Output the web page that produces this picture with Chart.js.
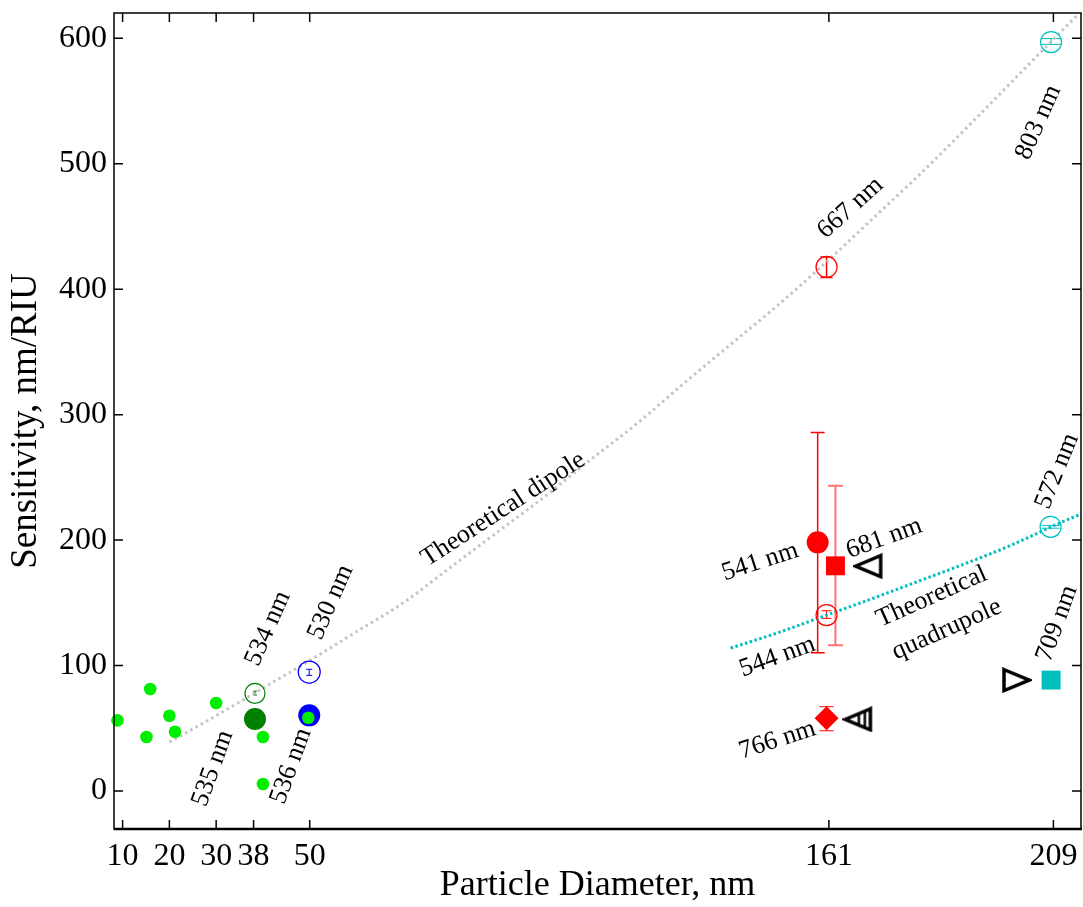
<!DOCTYPE html>
<html><head><meta charset="utf-8">
<script src="https://cdn.jsdelivr.net/npm/chart.js@4/dist/chart.umd.min.js"></script>
<style>html,body{margin:0;padding:0;background:#fff;overflow:hidden}#wrap{position:relative;width:1083px;height:907px}canvas{display:block}</style>
</head><body><div id="wrap"><canvas id="c"></canvas></div>
<script>
// ---- data ----
const xTickValues = [10, 20, 30, 38, 50, 161, 209];
const yTickValues = [0, 100, 200, 300, 400, 500, 600];

const dipoleX = [20, 30, 40, 50, 60, 70, 80, 90, 100, 110, 120, 130, 140, 150, 160, 170, 180, 190, 200, 210, 214];
const dipoleY = [39, 60, 82, 104, 127, 150, 178, 206, 234, 264, 293, 325, 356, 387, 420, 455, 490, 527, 565, 603, 618];
const quadX = [140, 150, 160, 170, 180, 190, 200, 210, 215];
const quadY = [114, 126, 139.5, 153, 167, 181, 196, 213, 221];

const greenSmallX = [8.9, 15.9, 15.1, 20.0, 21.2, 30.0, 40.0, 40.0, 49.7];
const greenSmallY = [56.3, 81.3, 43.0, 60.0, 47.2, 70.1, 43.0, 5.6, 58.4];
const darkGreenFilledX = [38.3], darkGreenFilledY = [57.4];
const darkGreenOpenX = [38.3], darkGreenOpenY = [77.8];
const blueFilledX = [49.9], blueFilledY = [60.3];
const blueOpenX = [49.9], blueOpenY = [94.8];
const redCircleX = [158.6], redCircleY = [198.2];
const redSquareX = [162.4], redSquareY = [179.5];
const redOpenX = [160.5, 160.5], redOpenY = [417.8, 140.2];
const redDiamondX = [160.5], redDiamondY = [58.0];
const cyanOpenX = [208.5, 208.4], cyanOpenY = [597.0, 210.6];
const cyanSquareX = [208.5], cyanSquareY = [88.4];
const triLeftX = [169.5], triLeftY = [179.3];
const triRightX = [201.0], triRightY = [88.4];
const triNestX = [167.3], triNestY = [57.1];

const errX = [158.6, 162.4, 160.5, 160.5, 160.5, 208.5, 208.4, 38.3, 49.9];
const errLow = [110.2, 116.1, 137.6, 48.0, 409.3, 595.2, 209.5, 76.5, 92.2];
const errHigh = [285.8, 243.3, 143.7, 67.2, 425.7, 599.8, 211.7, 79.5, 97.0];

const labelText = ['535 nm', '536 nm', '534 nm', '530 nm', 'Theoretical dipole', '667 nm', '803 nm', '572 nm', '709 nm', '541 nm', '681 nm', '544 nm', '766 nm', 'Theoretical', 'quadrupole'];
const labelX = [29.3, 46.0, 41.1, 54.5, 91.4, 165.6, 205.8, 209.8, 209.8, 146.3, 172.8, 150.0, 150.0, 183.0, 186.2];
const labelY = [18.0, 19.9, 129.6, 150.4, 224.5, 464.8, 533, 255, 133.6, 182.6, 201.4, 107, 40.5, 154.8, 128.8];

// ---- styles ----
const labelAngle = [-70, -70, -66, -66, -33, -42, -66, -68, -70, -18, -20, -20, -18, -24, -24];
const errColor = ['#ff0000', 'rgba(255,0,0,0.55)', '#ff0000', '#ff0000', '#ff0000', '#00bfbf', '#00bfbf', '#008000', '#0000ff'];
const errWidth = [1.5, 2, 1, 1, 1.5, 1, 1, 1, 1];
const errCap = [7, 7.5, 5, 7, 6, 10, 9, 2, 3];
const FONT = "'Liberation Serif', 'Times New Roman', serif";

function pts(xs, ys) { return xs.map((x, i) => ({x, y: ys[i]})); }

function makeTri(kind) {
  const c = document.createElement('canvas');
  c.width = 32; c.height = 26;
  const g = c.getContext('2d');
  g.strokeStyle = '#000'; g.lineWidth = 3.5; g.lineJoin = 'miter';
  g.beginPath();
  if (kind === 'right') {
    g.moveTo(4, 2.5); g.lineTo(29, 13); g.lineTo(4, 23.5); g.closePath();
  } else {
    g.moveTo(3, 13); g.lineTo(28, 2.5); g.lineTo(28, 23.5); g.closePath();
  }
  g.stroke();
  if (kind === 'nest') {
    g.lineWidth = 2.5;
    g.beginPath();
    [16.5, 22.5].forEach(px => { const h = 10.5 * (px - 3) / 25; g.moveTo(px, 13 - h); g.lineTo(px, 13 + h); });
    g.stroke();
  }
  return c;
}
const triLeftImg = makeTri('left'), triRightImg = makeTri('right'), triNestImg = makeTri('nest');

const errorBars = {
  id: 'errorBars',
  beforeDatasetsDraw(chart) {
    const {ctx, scales: {x, y}} = chart;
    ctx.save();
    errX.forEach((xv, i) => {
      const px = x.getPixelForValue(xv), y1 = y.getPixelForValue(errLow[i]), y2 = y.getPixelForValue(errHigh[i]);
      ctx.strokeStyle = errColor[i]; ctx.lineWidth = errWidth[i];
      ctx.beginPath();
      ctx.moveTo(px, y1); ctx.lineTo(px, y2);
      ctx.moveTo(px - errCap[i], y1); ctx.lineTo(px + errCap[i], y1);
      ctx.moveTo(px - errCap[i], y2); ctx.lineTo(px + errCap[i], y2);
      ctx.stroke();
    });
    ctx.restore();
  }
};

const textLabels = {
  id: 'textLabels',
  afterDatasetsDraw(chart) {
    const {ctx, scales: {x, y}} = chart;
    ctx.save();
    ctx.fillStyle = '#000';
    ctx.font = '26px ' + FONT;
    ctx.textAlign = 'center'; ctx.textBaseline = 'middle';
    labelText.forEach((t, i) => {
      ctx.save();
      ctx.translate(x.getPixelForValue(labelX[i]), y.getPixelForValue(labelY[i]));
      ctx.rotate(labelAngle[i] * Math.PI / 180);
      ctx.fillText(t, 0, 0);
      ctx.restore();
    });
    ctx.restore();
  }
};

const frame = {
  id: 'frame',
  afterDraw(chart) {
    const {ctx, chartArea: a, scales: {x, y}} = chart;
    ctx.save();
    ctx.strokeStyle = '#000'; ctx.lineWidth = 1.5;
    ctx.beginPath();
    x.ticks.forEach(t => {
      const px = x.getPixelForValue(t.value);
      ctx.moveTo(px, a.bottom); ctx.lineTo(px, a.bottom - 9);
      ctx.moveTo(px, a.top); ctx.lineTo(px, a.top + 9);
    });
    y.ticks.forEach(t => {
      const py = y.getPixelForValue(t.value);
      ctx.moveTo(a.left, py); ctx.lineTo(a.left + 9, py);
      ctx.moveTo(a.right, py); ctx.lineTo(a.right - 9, py);
    });
    ctx.stroke();
    ctx.strokeRect(a.left, a.top, a.right - a.left, a.bottom - a.top);
    ctx.lineWidth = 2.5;
    ctx.beginPath(); ctx.moveTo(a.left, a.bottom); ctx.lineTo(a.right + 1, a.bottom); ctx.stroke();
    ctx.restore();
  }
};

function ptSet(xs, ys, o) {
  return Object.assign({data: pts(xs, ys), showLine: false, clip: false, pointBorderWidth: 0, pointHoverRadius: 0, order: 1}, o);
}

const datasets = [
  {data: pts(dipoleX, dipoleY), showLine: true, borderColor: '#c4c4c4', borderWidth: 3, borderDash: [2.5, 3.5],
   pointRadius: 0, cubicInterpolationMode: 'monotone', order: 10},
  {data: pts(quadX, quadY), showLine: true, borderColor: '#00bfbf', borderWidth: 3, borderDash: [2.5, 2.5],
   pointRadius: 0, cubicInterpolationMode: 'monotone', order: 10},
  ptSet(darkGreenFilledX, darkGreenFilledY, {pointRadius: 11, pointBackgroundColor: '#008000', order: 3}),
  ptSet(darkGreenOpenX, darkGreenOpenY, {pointRadius: 10, pointBackgroundColor: 'rgba(0,0,0,0)', pointBorderColor: '#008000', pointBorderWidth: 1.2, order: 3}),
  ptSet(blueFilledX, blueFilledY, {pointRadius: 11, pointBackgroundColor: '#0000ff', order: 3}),
  ptSet(blueOpenX, blueOpenY, {pointRadius: 11, pointBackgroundColor: 'rgba(0,0,0,0)', pointBorderColor: '#0000ff', pointBorderWidth: 1.2, order: 3}),
  ptSet(greenSmallX, greenSmallY, {pointRadius: 6.3, pointBackgroundColor: '#00ee00', order: 0}),
  ptSet(redCircleX, redCircleY, {pointRadius: 11, pointBackgroundColor: '#ff0000'}),
  ptSet(redSquareX, redSquareY, {pointRadius: 13.4, pointStyle: 'rect', pointBackgroundColor: '#ff0000'}),
  ptSet(redOpenX, redOpenY, {pointRadius: 10.5, pointBackgroundColor: 'rgba(0,0,0,0)', pointBorderColor: '#ff0000', pointBorderWidth: 1.2}),
  ptSet(redDiamondX, redDiamondY, {pointRadius: 12, pointStyle: 'rectRot', pointBackgroundColor: '#ff0000'}),
  ptSet(cyanOpenX, cyanOpenY, {pointRadius: 10.5, pointBackgroundColor: 'rgba(0,0,0,0)', pointBorderColor: '#00bfbf', pointBorderWidth: 1.2}),
  ptSet(cyanSquareX, cyanSquareY, {pointRadius: 13.4, pointStyle: 'rect', pointBackgroundColor: '#00bfbf'}),
  ptSet(triLeftX, triLeftY, {pointRadius: 12, pointStyle: triLeftImg}),
  ptSet(triRightX, triRightY, {pointRadius: 12, pointStyle: triRightImg}),
  ptSet(triNestX, triNestY, {pointRadius: 12, pointStyle: triNestImg})
];

function noPad(s) { s.paddingTop = 0; s.paddingBottom = 0; s.paddingLeft = 0; s.paddingRight = 0; }

new Chart(document.getElementById('c'), {
  type: 'scatter',
  data: {datasets},
  plugins: [errorBars, textLabels, frame],
  options: {
    responsive: true, maintainAspectRatio: false, animation: false,
    layout: {autoPadding: false, padding: {top: 13, right: 2, left: 0, bottom: 0}},
    plugins: {legend: {display: false}, tooltip: {enabled: false}},
    events: [],
    scales: {
      x: {
        type: 'linear', min: 8.16, max: 214.9,
        grid: {display: false, drawTicks: false}, border: {display: false},
        afterBuildTicks: s => { s.ticks = xTickValues.map(v => ({value: v})); },
        afterFit: s => { s.height = 78; noPad(s); },
        ticks: {autoSkip: false, maxRotation: 0, padding: 8, color: '#000', font: {family: FONT, size: 32}, callback: v => String(v)},
        title: {display: true, text: 'Particle Diameter, nm', color: '#000', font: {family: FONT, size: 36}, padding: {top: 0, bottom: 0}}
      },
      y: {
        type: 'linear', min: -30.3, max: 620.2,
        grid: {display: false, drawTicks: false}, border: {display: false},
        afterBuildTicks: s => { s.ticks = yTickValues.map(v => ({value: v})); },
        afterFit: s => { s.width = 114; noPad(s); },
        ticks: {autoSkip: false, padding: 7, color: '#000', font: {family: FONT, size: 32}, callback: v => String(v)},
        title: {display: true, text: 'Sensitivity, nm/RIU', color: '#000', font: {family: FONT, size: 37}, padding: {top: 4, bottom: 0}}
      }
    }
  }
});
</script>
</body></html>
